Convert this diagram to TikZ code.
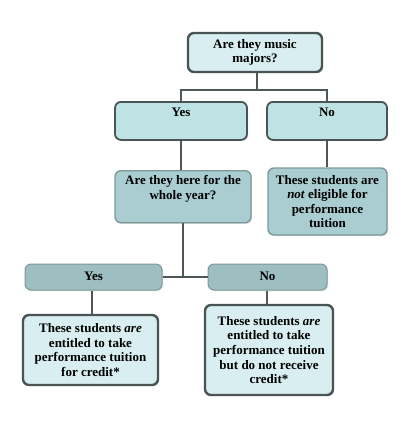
\documentclass[tikz,border=0pt]{standalone}
\usepackage{fontspec}
\setmainfont{Liberation Serif}
\usetikzlibrary{shadows}
\definecolor{fillA}{HTML}{D8EEF0}
\definecolor{fillB}{HTML}{BFE2E4}
\definecolor{fillC}{HTML}{A9CDD0}
\definecolor{fillD}{HTML}{9DBFC1}
\definecolor{edgeDark}{HTML}{4A5454}
\definecolor{edgeMid}{HTML}{7E9899}
\definecolor{lineC}{HTML}{4D5757}
\begin{document}
\begin{tikzpicture}[x=1pt,y=-1pt,
  font=\fontsize{13}{14.6}\selectfont\bfseries,
  box/.style={rectangle, rounded corners=6pt, align=center, inner sep=0pt,
    drop shadow={shadow xshift=1.2pt, shadow yshift=-1.2pt, opacity=0.25}},
  boxA/.style={box, fill=fillA, draw=edgeDark, line width=2.4pt},
  boxB/.style={box, fill=fillB, draw=edgeDark, line width=1.8pt},
  boxC/.style={box, fill=fillC, draw=edgeMid, line width=1.4pt},
  boxD/.style={box, fill=fillD, draw=edgeMid, line width=1pt},
  conn/.style={draw=lineC, line width=1.5pt}]
\useasboundingbox (0,0) rectangle (413,426);
% top
\node[boxA, minimum width=134pt, minimum height=39pt] (music) at (255,52.5)
  {Are they music\\majors?};
% level 2
\node[boxB, minimum width=132pt, minimum height=38pt, anchor=north,
  text height=11pt, text depth=19pt, inner ysep=4pt] (yes1) at (181,101) {Yes};
\node[boxB, minimum width=120pt, minimum height=38pt, anchor=north,
  text height=11pt, text depth=19pt, inner ysep=4pt] (no1) at (327,101) {No};
% level 3
\node[boxC, minimum width=136pt, minimum height=52pt, anchor=north] (year) at (183,170)
  {\begin{minipage}[t][46pt][t]{134pt}\centering\vspace{2pt}Are they here for the\\whole year?\end{minipage}};
\node[boxC, minimum width=119pt, minimum height=67pt] (noteligible) at (327.5,201.5)
  {These students are\\\textit{not} eligible for\\performance\\tuition};
% level 4
\node[boxD, minimum width=137pt, minimum height=26pt] (yes2) at (93.5,277)
  {\raisebox{2pt}{Yes}};
\node[boxD, minimum width=119pt, minimum height=26pt] (no2) at (267.5,277)
  {\raisebox{2pt}{No}};
% level 5
\node[boxA, minimum width=135pt, minimum height=70pt] (credit) at (90.5,350)
  {These students \textit{are}\\entitled to take\\performance tuition\\for credit*};
\node[boxA, minimum width=128pt, minimum height=90pt] (nocredit) at (269,350)
  {These students \textit{are}\\entitled to take\\performance tuition\\but do not receive\\credit*};
% connectors
\coordinate (split1) at (257,90);
\coordinate (split2) at (183,277);
\draw[conn] (music.south -| split1) -- (split1);
\draw[conn] (yes1.north) |- (split1) -| (no1.north);
\draw[conn] (yes1.south) -- (yes1.south |- year.north);
\draw[conn] (no1.south) -- (no1.south |- noteligible.north);
\draw[conn] (year.south -| split2) -- (split2);
\draw[conn] (yes2.east) -- (no2.west);
\draw[conn] (yes2.south -| 92,0) -- (credit.north -| 92,0);
\draw[conn] (no2.south -| 267,0) -- (nocredit.north -| 267,0);
\end{tikzpicture}
\end{document}
